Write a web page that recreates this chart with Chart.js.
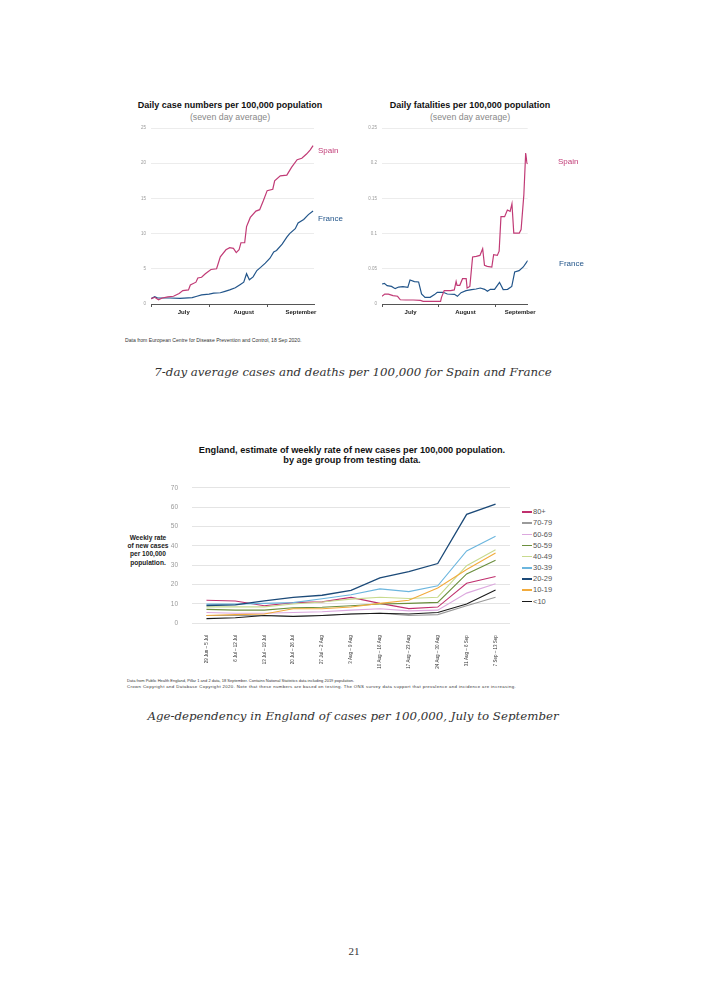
<!DOCTYPE html>
<html>
<head>
<meta charset="utf-8">
<script src="https://cdn.jsdelivr.net/npm/chart.js@4.4.0/dist/chart.umd.min.js"></script>
<style>
  html, body { margin: 0; padding: 0; background: #fff; }
  body { width: 709px; height: 992px; position: relative; overflow: hidden; font-family: "Liberation Sans", Arial, sans-serif; }
  canvas { position: absolute; }
  .t { position: absolute; white-space: nowrap; }
  .c { transform: translateX(-50%); text-align: center; }
  .title { font-weight: bold; font-size: 9px; line-height: 10px; color: #111; }
  .sub { font-size: 8.8px; line-height: 10px; color: #888; }
  .tag { font-size: 8px; line-height: 10px; }
  .note { font-size: 4.3px; line-height: 6px; color: #333; }
  .cap { font-family: "DejaVu Serif", serif; font-style: italic; font-size: 11.8px; line-height: 14px; color: #333; }
  .leg { position: absolute; font-size: 7.5px; line-height: 9px; color: #555; }
  .leg i { position: absolute; left: -11px; top: 4px; width: 10px; height: 1.6px; }
</style>
</head>
<body>

<!-- chart 1 / 2 : Spain and France -->
<div class="t c title" style="left:230px; top:100px;">Daily case numbers per 100,000 population</div>
<div class="t c sub" style="left:230px; top:112px;">(seven day average)</div>
<canvas id="chartCases" width="190" height="198" style="left:130px; top:120px;"></canvas>
<div class="t tag" style="left:318px; top:146px; color:#c13b76;">Spain</div>
<div class="t tag" style="left:318px; top:214px; color:#22558a;">France</div>

<div class="t c title" style="left:470px; top:100px;">Daily fatalities per 100,000 population</div>
<div class="t c sub" style="left:470px; top:112px;">(seven day average)</div>
<canvas id="chartDeaths" width="179" height="198" style="left:359px; top:120px;"></canvas>
<div class="t tag" style="left:558px; top:157px; color:#c13b76;">Spain</div>
<div class="t tag" style="left:559px; top:259px; color:#22558a;">France</div>

<div class="t note" style="left:125px; top:337px; font-size:5.1px;">Data from European Centre for Disease Prevention and Control, 18 Sep 2020.</div>
<div class="t c cap" style="left:353px; top:365px;">7-day average cases and deaths per 100,000 for Spain and France</div>

<!-- chart 3 : England by age -->
<div class="t c title" style="left:352px; top:445px; font-size:9.2px;">England, estimate of weekly rate of new cases per 100,000 population.<br>by age group from testing data.</div>
<div class="t c" style="left:148px; top:533.5px; font-weight:bold; font-size:6.6px; line-height:8.4px; color:#222;">Weekly rate<br>of new cases<br>per 100,000<br>population.</div>
<canvas id="chartAge" width="365" height="200" style="left:150px; top:470px;"></canvas>
<div id="ageLegend"></div>

<div class="t note" style="left:127px; top:678px; font-size:4px;">Data from Public Health England, Pillar 1 and 2 data, 18 September. Contains National Statistics data including 2019 population.</div>
<div class="t note" style="left:127px; top:684px; letter-spacing:0.38px;">Crown Copyright and Database Copyright 2020. Note that these numbers are based on testing. The ONS survey data support that prevalence and incidence are increasing.</div>
<div class="t c cap" style="left:353px; top:709px;">Age-dependency in England of cases per 100,000, July to September</div>

<div class="t c" style="left:354px; top:945px; font-family:'Liberation Serif', serif; font-size:11px; color:#333;">21</div>

<script>
// ---- data: days counted from 1 July ----
const spainCaseDays = [0, 2, 4, 6, 9, 12, 15, 17, 20, 21, 24, 25, 27, 29, 32, 35, 37, 40, 42, 44,
  45.5, 47, 48, 50, 51, 53, 56, 58, 60, 62, 65, 66, 69, 72.5, 75, 78, 80.5, 83, 85, 86.5];
const spainCases = [0.75, 0.95, 0.6, 0.85, 1.0, 1.1, 1.5, 1.9, 2.0, 2.7, 3.1, 3.7, 3.8, 4.3, 4.9, 5.0, 6.7, 7.7, 8.0, 7.9,
  7.3, 7.7, 8.7, 8.7, 11.0, 12.3, 13.2, 13.4, 14.7, 16.1, 16.3, 17.5, 18.2, 18.3, 19.4, 20.5, 20.7, 21.3, 21.9, 22.5];

const franceCaseDays = [0, 2, 3.5, 7, 10, 15.5, 22, 24.5, 27, 31, 33.5, 37, 39.5, 42, 45, 47.5, 49.5, 51, 52.5, 54.5,
  56.5, 58.5, 61, 63.5, 65.5, 67, 70, 72.5, 74, 77, 78.5, 81.5, 84, 86.5];
const franceCases = [0.75, 1.05, 0.85, 0.85, 0.85, 0.8, 0.9, 1.1, 1.3, 1.4, 1.55, 1.6, 1.8, 2.0, 2.3, 2.75, 3.1, 4.3, 3.45, 3.85,
  4.75, 5.2, 5.8, 6.5, 7.4, 7.6, 8.5, 9.5, 10.0, 10.7, 11.5, 12.0, 12.7, 13.2];

const spainDeathDays = [0, 1.5, 3.5, 6, 8.5, 10, 13, 17, 21, 22.5, 28, 32, 32.5, 34, 37.5, 39.5, 40.5, 41, 42.5, 44,
  46, 46.5, 48, 49.5, 51.5, 53.5, 55, 56, 57.5, 60, 61, 63, 64, 65, 67, 68.5, 70, 71, 72, 75,
  76, 77.5, 78.5, 79.2, 79.6];
const spainDeaths = [0.011, 0.014, 0.014, 0.012, 0.011, 0.006, 0.0057, 0.0057, 0.0052, 0.0038, 0.0038, 0.0038, 0.0095, 0.019, 0.019, 0.020, 0.032, 0.0265, 0.0265, 0.036,
  0.036, 0.0227, 0.025, 0.0668, 0.0677, 0.069, 0.0786, 0.055, 0.0535, 0.0526, 0.070, 0.069, 0.075, 0.124, 0.124, 0.1335, 0.1316, 0.1425, 0.1008, 0.1008,
  0.1056, 0.155, 0.2145, 0.2003, 0.199];

const franceDeathDays = [0, 1.3, 2.8, 5.2, 7.2, 9.1, 11.4, 14.1, 15.3, 17.7, 20, 21.6, 23.5, 26.3, 28.7, 30.2, 33.4, 35.7, 39.6, 41.2,
  43.2, 45.9, 49, 51.4, 53.7, 56.1, 57.6, 59.2, 61.5, 64.2, 66.2, 68.6, 70.9, 72.5, 74.9, 77.2, 79.6];
const franceDeaths = [0.0284, 0.0294, 0.026, 0.025, 0.0218, 0.0241, 0.0246, 0.0237, 0.0341, 0.0317, 0.0313, 0.0142, 0.0095, 0.0095, 0.0133, 0.0166, 0.0166, 0.0142, 0.0137, 0.0109,
  0.0161, 0.0189, 0.0204, 0.0213, 0.0227, 0.0208, 0.018, 0.0208, 0.0208, 0.0308, 0.0204, 0.0208, 0.025, 0.0455, 0.0473, 0.0526, 0.0616];

const monthNames = ["July", "August", "September"];
const monthMidCases = [17.5, 49.5, 80];
const monthMidDeaths = [15.6, 45.6, 75.5];
const monthEdges = [0, 31, 62];

// England, weekly rate by age
const weekLabels = ["29 Jun \u2013 5 Jul", "6 Jul \u2013 12 Jul", "13 Jul \u2013 19 Jul", "20 Jul \u2013 26 Jul",
  "27 Jul \u2013 2 Aug", "3 Aug \u2013 9 Aug", "10 Aug \u2013 16 Aug", "17 Aug \u2013 23 Aug",
  "24 Aug \u2013 30 Aug", "31 Aug \u2013 6 Sep", "7 Sep \u2013 13 Sep"];
const ageGroups = ["80+", "70-79", "60-69", "50-59", "40-49", "30-39", "20-29", "10-19", "<10"];
const age80 = [11.9, 11.5, 9.1, 10.7, 11.1, 13.4, 10.3, 7.6, 8.4, 20.7, 24.2];
const age70 = [4.0, 4.0, 4.0, 3.7, 4.0, 4.8, 5.2, 4.0, 4.5, 9.1, 13.5];
const age60 = [5.6, 5.2, 5.2, 5.6, 6.0, 6.8, 7.5, 6.4, 6.8, 15.6, 20.4];
const age50 = [7.2, 6.8, 6.8, 8.0, 8.3, 9.1, 10.0, 10.3, 10.8, 25.5, 32.6];
const age40 = [8.5, 8.5, 8.5, 10.0, 11.0, 12.5, 13.5, 12.8, 13.5, 29.8, 38.0];
const age30 = [9.9, 9.9, 10.3, 10.7, 12.7, 14.8, 17.8, 16.4, 19.4, 37.4, 45.0];
const age20 = [9.2, 9.5, 11.6, 13.4, 14.5, 17.0, 23.5, 26.7, 30.9, 56.3, 61.6];
const age10 = [4.0, 4.5, 4.8, 7.5, 7.5, 8.4, 10.3, 11.9, 18.3, 27.8, 36.3];
const age0 = [2.4, 2.9, 4.0, 3.5, 4.0, 4.8, 5.2, 4.8, 5.6, 10.0, 17.2];

const SPAIN = "#c13b76";
const FRANCE = "#22558a";
const ageColors = ["#c0306e", "#9a9a9a", "#dca8de", "#6b8f3e", "#c8da8e", "#6cb6de", "#1c4a78", "#f2ab3c", "#1a1a1a"];

Chart.defaults.font.family = "'Liberation Sans', Arial, sans-serif";
Chart.defaults.animation = false;

const pts = (xs, ys) => xs.map((x, i) => ({ x: x, y: ys[i] }));

function monthAxis(max, mids) {
  return {
    type: "linear", min: 0, max: max,
    afterBuildTicks: s => {
      s.ticks = monthEdges.map(v => ({ value: v })).concat(mids.map(v => ({ value: v })));
      s.ticks.sort((a, b) => a.value - b.value);
    },
    ticks: {
      autoSkip: false, maxRotation: 0, padding: 2,
      color: "#222", font: { size: 6, weight: "bold" },
      callback: v => { const i = mids.indexOf(v); return i >= 0 ? monthNames[i] : ""; }
    },
    grid: {
      drawOnChartArea: false, tickLength: 3,
      color: c => (c.tick && monthEdges.includes(c.tick.value)) ? "#555" : "rgba(0,0,0,0)"
    },
    border: { color: "#555", width: 1 },
    afterFit: s => { s.height = 14; }
  };
}

function lineSet(data, color) {
  return { data: data, borderColor: color, borderWidth: 1.2, pointRadius: 0, tension: 0, fill: false };
}

new Chart(document.getElementById("chartCases"), {
  type: "line",
  data: { datasets: [lineSet(pts(spainCaseDays, spainCases), SPAIN), lineSet(pts(franceCaseDays, franceCases), FRANCE)] },
  options: {
    responsive: false, devicePixelRatio: 1,
    layout: { padding: { top: 8, right: 6, left: 0, bottom: 0 } },
    plugins: { legend: { display: false }, tooltip: { enabled: false } },
    scales: {
      x: monthAxis(87, monthMidCases),
      y: {
        min: 0, max: 25,
        ticks: { stepSize: 5, color: "#999", font: { size: 4.5 }, padding: 5 },
        grid: { color: "#ececec", drawTicks: false },
        border: { display: false },
        afterFit: s => { s.width = 21; }
      }
    }
  }
});

new Chart(document.getElementById("chartDeaths"), {
  type: "line",
  data: { datasets: [lineSet(pts(spainDeathDays, spainDeaths), SPAIN), lineSet(pts(franceDeathDays, franceDeaths), FRANCE)] },
  options: {
    responsive: false, devicePixelRatio: 1,
    layout: { padding: { top: 8, right: 6, left: 0, bottom: 0 } },
    plugins: { legend: { display: false }, tooltip: { enabled: false } },
    scales: {
      x: monthAxis(79.6, monthMidDeaths),
      y: {
        min: 0, max: 0.25,
        ticks: { stepSize: 0.05, color: "#999", font: { size: 4.5 }, padding: 5, callback: v => String(+v.toFixed(2)) },
        grid: { color: "#ececec", drawTicks: false },
        border: { display: false },
        afterFit: s => { s.width = 23; }
      }
    }
  }
});

const ageSeries = [age80, age70, age60, age50, age40, age30, age20, age10, age0];

new Chart(document.getElementById("chartAge"), {
  type: "line",
  data: {
    labels: weekLabels,
    datasets: ageSeries.map((d, i) => ({
      label: ageGroups[i], data: d, borderColor: ageColors[i],
      borderWidth: i === 6 ? 1.3 : 1.1, pointRadius: 0, tension: 0, fill: false
    })).reverse()
  },
  options: {
    responsive: false, devicePixelRatio: 1,
    layout: { padding: { top: 7, right: 5, left: 0, bottom: 0 } },
    plugins: { legend: { display: false }, tooltip: { enabled: false } },
    scales: {
      x: {
        offset: true,
        ticks: { autoSkip: false, minRotation: 90, maxRotation: 90, color: "#333", font: { size: 4.5 }, padding: 4 },
        grid: { display: false },
        border: { display: false },
        afterFit: s => { s.height = 46.7; }
      },
      y: {
        min: 0, max: 70,
        ticks: { stepSize: 10, color: "#999", font: { size: 6.5 }, padding: 14 },
        grid: { color: "#e4e4e4", drawTicks: false },
        border: { display: false },
        afterFit: s => { s.width = 42; }
      }
    }
  }
});

// legend for the age groups
const legend = document.getElementById("ageLegend");
ageGroups.forEach((g, i) => {
  const d = document.createElement("div");
  d.className = "leg";
  d.style.left = "533px";
  d.style.top = (507.2 + i * 11.17) + "px";
  d.innerHTML = '<i style="background:' + ageColors[i] + '"></i>' + g.replace("<", "&lt;");
  legend.appendChild(d);
});
</script>
</body>
</html>
